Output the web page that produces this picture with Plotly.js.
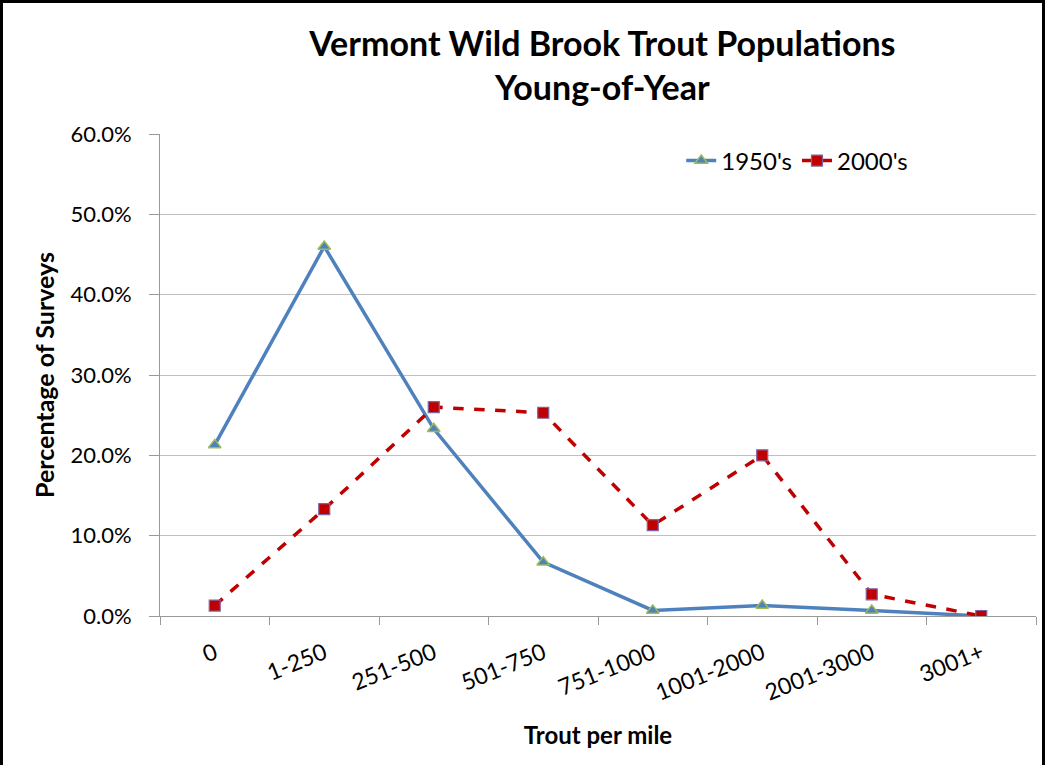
<!DOCTYPE html>
<html><head><meta charset="utf-8">
<script src="https://cdn.plot.ly/plotly-3.0.1.min.js"></script>
<style>
html,body{margin:0;padding:0;background:#fff;}
#frame{position:absolute;left:0;top:0;width:1039px;height:770px;border:3px solid #000;box-sizing:content-box;}
#chart{position:absolute;left:0;top:0;width:1045px;height:765px;}
</style></head>
<body>
<div id="chart"></div>
<div id="frame" style="pointer-events:none"></div>
<script>
const categories = ["0","1-250","251-500","501-750","751-1000","1001-2000","2001-3000","3001+"];
const series1950 = [21.3, 46.0, 23.3, 6.7, 0.7, 1.3, 0.7, 0.0];
const series2000 = [1.3, 13.3, 26.0, 25.3, 11.3, 20.0, 2.7, 0.0];
const yTicks = [0,10,20,30,40,50,60];
const yTickText = yTicks.map(v => v.toFixed(1) + "%");

const font = "Lato, 'Open Sans', 'Liberation Sans', sans-serif";

const traces = [
  {x: categories, y: series1950, name: "1950's", type: "scatter", mode: "lines+markers",
   line: {color: "#4F81BD", width: 3.5},
   marker: {symbol: "triangle-up", size: 11, color: "#4F81BD", line: {color: "#9BBB59", width: 1.5}}},
  {x: categories, y: series2000, name: "2000's", type: "scatter", mode: "lines+markers",
   line: {color: "#C00000", width: 3.5, dash: "dash"},
   marker: {symbol: "square", size: 11, color: "#C00000", line: {color: "#8064A2", width: 1.2}}}
];

const layout = {
  width: 1045, height: 765,
  margin: {l: 160, r: 9, t: 134, b: 149},
  paper_bgcolor: "#fff", plot_bgcolor: "#fff",
  font: {family: font, color: "#000", size: 22},
  title: {text: "<b>Vermont Wild Brook Trout Populations<br>Young-of-Year</b>",
          x: 0.505, xref: "paper", y: 0.927, yref: "container", yanchor: "top",
          font: {family: font, size: 34, color: "#000"}},
  showlegend: true,
  legend: {orientation: "h", x: 0.595, y: 0.944, xanchor: "left", yanchor: "middle",
           font: {family: font, size: 24, color: "#000"}, bgcolor: "rgba(0,0,0,0)",
           tracegroupgap: 0},
  xaxis: {type: "category", tickson: "boundaries", ticks: "outside", ticklen: 8,
          tickcolor: "#999", showline: true, linecolor: "#999", linewidth: 1,
          showgrid: false, tickangle: -22, range: [-0.5, 7.5], ticklabelstandoff: 14,
          tickfont: {family: font, size: 23, color: "#000"},
          title: {text: "<b>Trout per mile</b>", font: {family: font, size: 24, color: "#000"}, standoff: 22}},
  yaxis: {range: [0, 60], tickvals: yTicks, ticktext: yTickText, ticks: "outside", ticklen: 10,
          tickcolor: "#999", showline: true, linecolor: "#999", linewidth: 1,
          showgrid: true, gridcolor: "#C0C0C0", gridwidth: 1, zeroline: false, ticklabelstandoff: 13,
          tickfont: {family: font, size: 22, color: "#000"},
          title: {text: "<b>Percentage of Surveys</b>", font: {family: font, size: 25, color: "#000"}, standoff: 8}}
};

Plotly.newPlot("chart", traces, layout, {displayModeBar: false, staticPlot: true});
</script>
</body></html>
